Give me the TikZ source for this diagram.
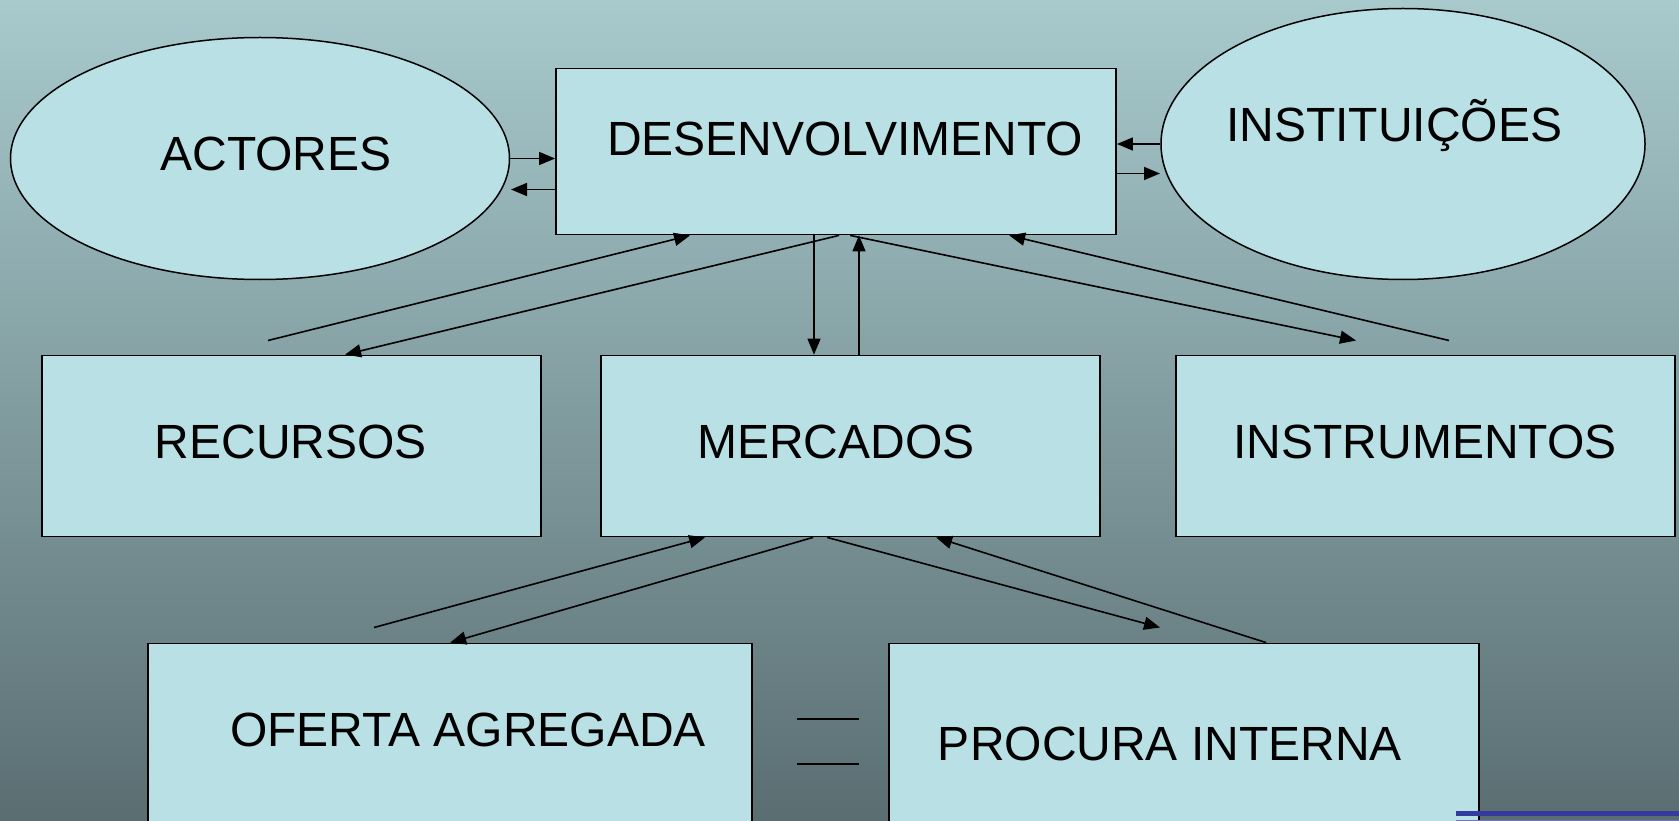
\documentclass[tikz,border=0pt]{standalone}
\usepackage{fontspec}
\setmainfont{Liberation Sans}
\usetikzlibrary{shapes,arrows.meta}
\definecolor{bgtop}{RGB}{168,202,205}
\definecolor{bgbot}{RGB}{90,110,114}
\definecolor{boxfill}{RGB}{185,224,228}
\definecolor{slideblue}{RGB}{53,58,158}

\begin{document}
\begin{tikzpicture}[x=1pt,y=-1pt,
      box/.style={draw,fill=boxfill,line width=1.8pt,inner sep=0pt},
      oval/.style={ellipse,draw,fill=boxfill,line width=1.5pt,inner sep=0pt},
      txt/.style={anchor=base,inner sep=0pt,font=\fontsize{48pt}{58pt}\selectfont},
      arr/.style={line width=1.6pt,-{Triangle[length=16pt,width=13pt]}}]
      \useasboundingbox (0,0) rectangle (1679,821);
      \clip (0,0) rectangle (1679,821);
      \shade[top color=bgtop,bottom color=bgbot] (0,0) rectangle (1679,821);

      % top row
      \node[oval,minimum width=499,minimum height=242] (act) at (260,158.5) {};
      \node[box,minimum width=560,minimum height=166] (des) at (836,151.5) {};
      \node[oval,minimum width=484,minimum height=271] (inst) at (1403,144) {};
      \node[txt] (acttxt) at (276,171) {ACTORES};
      \node[txt] (destxt) at (845,156) {DESENVOLVIMENTO};
      \node[txt] (insttxt) at (1394,142) {INSTITUIÇÕES};

      % middle row
      \node[box,minimum width=499,minimum height=181] (rec) at (291.5,446) {};
      \node[box,minimum width=499,minimum height=181] (mer) at (850.5,446) {};
      \node[box,minimum width=499,minimum height=181] (ins) at (1425.5,446) {};
      \node[txt] (rectxt) at (291,458) {RECURSOS};
      \node[txt] (mertxt) at (836,458) {MERCADOS};
      \node[txt] (instxt) at (1425,458) {INSTRUMENTOS};

      % bottom row
      \node[box,minimum width=604,minimum height=220] (ofe) at (450,753.5) {};
      \node[box,minimum width=590,minimum height=220] (pro) at (1184,753.5) {};
      \node[txt] (ofetxt) at (468,746) {OFERTA AGREGADA};
      \node[txt] (protxt) at (1170,760) {PROCURA INTERNA};
      \draw[line width=1.6pt] (797,719) -- (859,719);
      \draw[line width=1.6pt] (797,764) -- (859,764);
      \fill[slideblue] (1456,810.5) rectangle (1679,815.5);
      \draw[slideblue!70,line width=1.2pt] (1456,820.4) -- (1679,820.4);

      % free ends
      \coordinate (actin) at (511,189.5);
      \coordinate (instin) at (1160,173.5);
      \coordinate (recout) at (268,340.5);
      \coordinate (insin) at (1356,340.5);
      \coordinate (insout) at (1449,340.5);
      \coordinate (ofeout) at (374,627.5);
      \coordinate (proin) at (1160,627.5);

      % connectors
      \draw[arr] (act.east) -- (act.east -| des.west);
      \draw[arr] ([yshift=-38pt]des.west) -- (actin);
      \draw[arr] (inst.west) -- (inst.west -| des.east);
      \draw[arr] ([yshift=-22pt]des.east) -- (instin);
      \draw[arr] (recout) -- ([xshift=135pt]des.south west);
      \draw[arr] ([xshift=284pt]des.south west) -- ([xshift=304pt]rec.north west);
      \draw[arr] ([xshift=-22pt]des.south) -- ([xshift=-22pt]des.south |- mer.north);
      \draw[arr] ([xshift=23pt]des.south |- mer.north) -- ([xshift=23pt]des.south);
      \draw[arr] ([xshift=295pt]des.south west) -- (insin);
      \draw[arr] (insout) -- ([xshift=454pt]des.south west);
      \draw[arr] (ofeout) -- ([xshift=105pt]mer.south west);
      \draw[arr] ([xshift=213pt]mer.south west) -- ([xshift=303pt]ofe.north west);
      \draw[arr] ([xshift=227pt]mer.south west) -- (proin);
      \draw[arr] ([xshift=378pt]pro.north west) -- ([xshift=336pt]mer.south west);
\end{tikzpicture}
\end{document}
